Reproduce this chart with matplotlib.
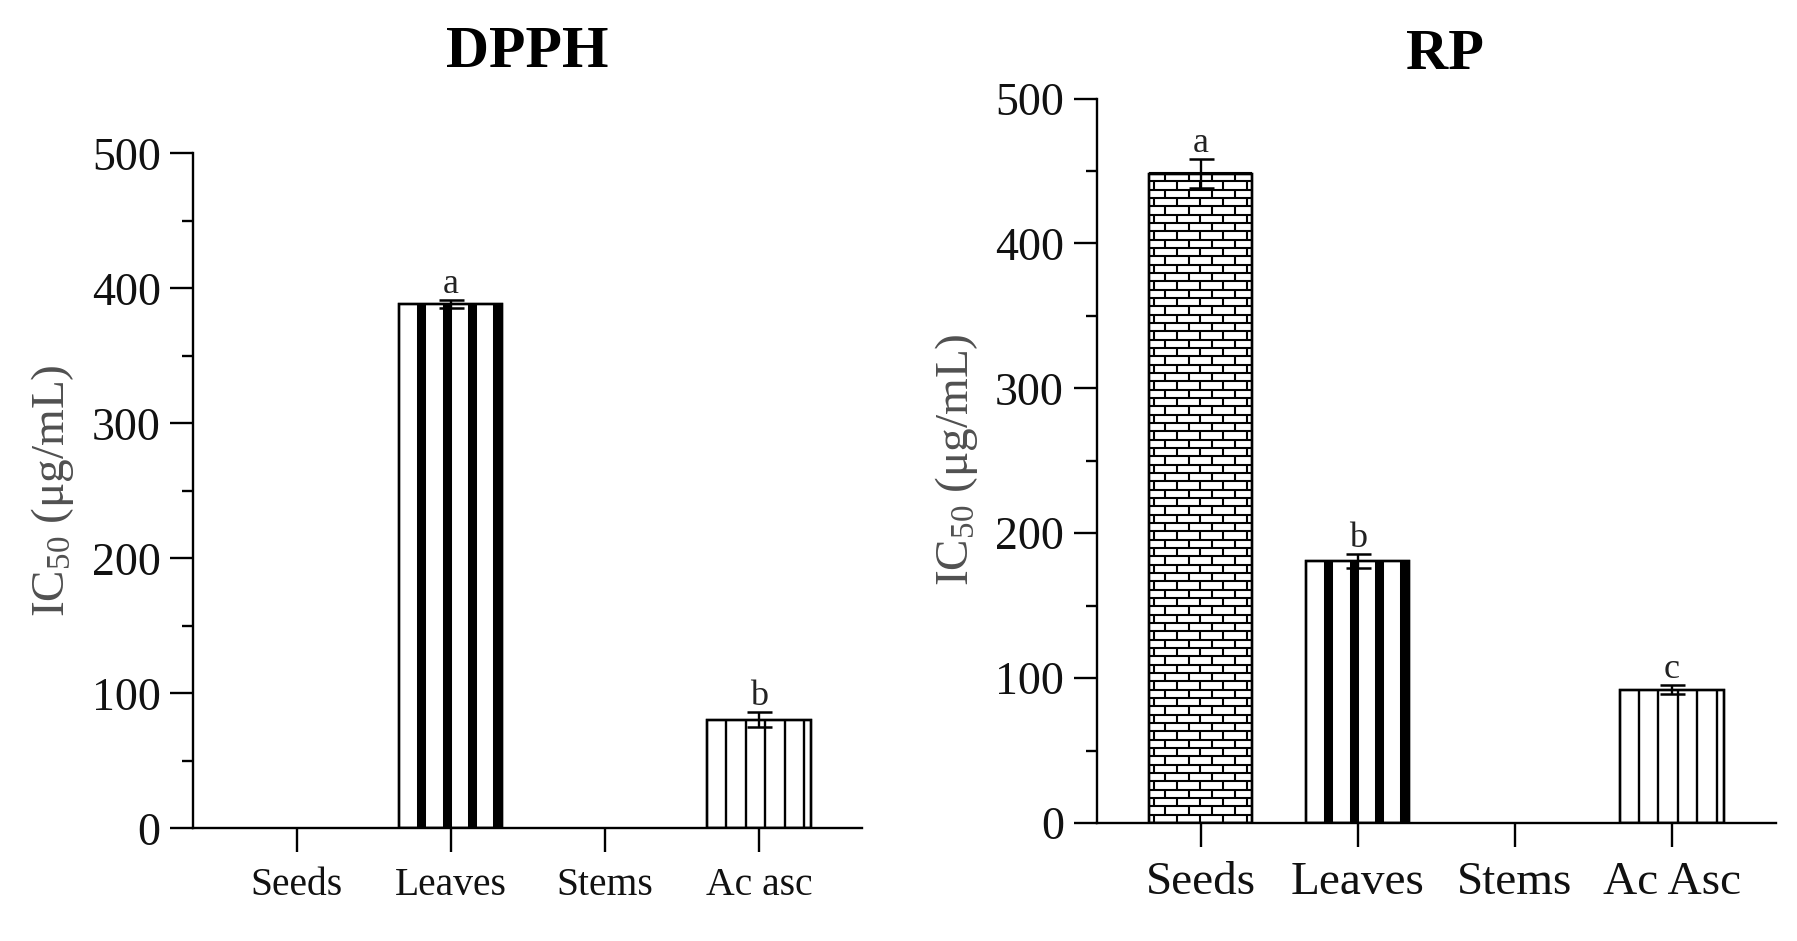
import numpy as np
import matplotlib
matplotlib.use('Agg')
import matplotlib.pyplot as plt
from matplotlib.collections import LineCollection

# ---------------- data ----------------
dpph_categories = ['Seeds', 'Leaves', 'Stems', 'Ac asc']
dpph_values = [np.nan, 388.5, np.nan, 80.5]
dpph_errors = [np.nan, 3.0, np.nan, 5.5]
dpph_letters = ['', 'a', '', 'b']
dpph_patterns = [None, 'thick', None, 'thin']

rp_categories = ['Seeds', 'Leaves', 'Stems', 'Ac Asc']
rp_values = [448.0, 180.8, np.nan, 92.1]
rp_errors = [10.0, 5.0, np.nan, 3.3]
rp_letters = ['a', 'b', '', 'c']
rp_patterns = ['brick', 'thick', None, 'thin']

y_major = [0, 100, 200, 300, 400, 500]
y_minor = [50, 150, 250, 350, 450]
ylabel_text = 'IC$_{50}$ (μg/mL)'

# ---------------- style ----------------
plt.rcParams['font.family'] = ['Liberation Serif', 'DejaVu Serif']
plt.rcParams['mathtext.fontset'] = 'custom'
plt.rcParams['mathtext.rm'] = 'Liberation Serif'
plt.rcParams['mathtext.it'] = 'Liberation Serif:italic'
plt.rcParams['mathtext.bf'] = 'Liberation Serif:bold'

W, H = 1797, 941
fig = plt.figure(figsize=(W / 100, H / 100), dpi=100)
fig.patch.set_facecolor('white')

LW = 1.7


def px_axes(x0, x1, ytop, ybot):
    return fig.add_axes([x0 / W, 1 - ybot / H, (x1 - x0) / W, (ybot - ytop) / H])


ax1 = px_axes(193.3, 861.7, 153.3, 828.3)
ax2 = px_axes(1096.7, 1776.0, 98.5, 823.0)


def decorate(ax, bar, kind):
    x0 = bar.get_x()
    w = bar.get_width()
    h = bar.get_height()
    if kind == 'thick':
        xs = x0 + w * np.array([0.215, 0.46, 0.705, 0.95])
        lc = ax.vlines(xs, 0, h, colors='black', linewidth=6.5, zorder=2.1)
        lc.set_capstyle('butt')
        lc.set_clip_path(bar)
    elif kind == 'thin':
        xs = x0 + w * np.array([0.183, 0.37, 0.557, 0.748, 0.938])
        lc = ax.vlines(xs, 0, h, colors='black', linewidth=1.7, zorder=2.1)
        lc.set_capstyle('butt')
        lc.set_clip_path(bar)
    elif kind == 'brick':
        row_h = 5.75
        brick_w = 0.1485
        nrows = int(np.ceil(h / row_h))
        segs = []
        for i in range(nrows + 1):
            y = i * row_h
            segs.append([(x0, y), (x0 + w, y)])
        for i in range(nrows):
            ya, yb = i * row_h, (i + 1) * row_h
            phase = 0.03 if i % 2 == 0 else 0.03 + brick_w / 2
            for xx in x0 + phase + np.arange(0, w + brick_w, brick_w):
                if xx < x0 + w:
                    segs.append([(xx, ya), (xx, yb)])
        lc = LineCollection(segs, colors='black', linewidths=1.5, zorder=2.1)
        lc.set_clip_path(bar)
        ax.add_collection(lc)


def draw_panel(ax, cats, vals, errs, letters, patterns, width, xlim,
               xfs, yfs):
    x = np.arange(len(cats))
    for i, (v, e, lt, pt) in enumerate(zip(vals, errs, letters, patterns)):
        if np.isnan(v):
            continue
        bars = ax.bar(x[i], v, width=width, color='white', edgecolor='black',
                      linewidth=LW, zorder=2)
        decorate(ax, bars[0], pt)
        # redraw outline on top
        ax.bar(x[i], v, width=width, fill=False, edgecolor='black',
               linewidth=LW, zorder=2.2)
        ax.errorbar(x[i], v, yerr=e, fmt='none', ecolor='black',
                    elinewidth=1.7, capsize=9, capthick=1.8, zorder=3)
        ax.annotate(lt, (x[i], v + e), xytext=(0, 5),
                    textcoords='offset points', ha='center', va='baseline',
                    fontsize=26, color='#222222')
    ax.set_xlim(*xlim)
    ax.set_ylim(0, 500)
    ax.set_xticks(x)
    ax.set_xticklabels(cats, fontsize=xfs, color='#111111')
    ax.set_yticks(y_major)
    ax.set_yticks(y_minor, minor=True)
    ax.set_yticklabels([str(t) for t in y_major], fontsize=yfs,
                       color='#111111')
    for s in ['top', 'right']:
        ax.spines[s].set_visible(False)
    for s in ['left', 'bottom']:
        ax.spines[s].set_linewidth(LW)
    ax.tick_params(axis='y', which='major', length=16.5, width=LW, pad=7)
    ax.tick_params(axis='y', which='minor', length=8, width=LW)
    ax.tick_params(axis='x', which='major', length=17, width=LW, pad=11)
    ax.tick_params(axis='x', which='minor', length=0)
    ax.set_facecolor('white')


draw_panel(ax1, dpph_categories, dpph_values, dpph_errors, dpph_letters,
           dpph_patterns, 0.67, (-0.671, 3.667), 28.5, 33)
draw_panel(ax2, rp_categories, rp_values, rp_errors, rp_letters,
           rp_patterns, 0.66, (-0.662, 3.664), 34, 33)

# titles
fig.text(527 / W, 1 - 67 / H, 'DPPH', ha='center', va='baseline',
         fontsize=43, fontweight='bold')
fig.text(1445 / W, 1 - 69 / H, 'RP', ha='center', va='baseline',
         fontsize=42, fontweight='bold')

# y labels
fig.text(52 / W, 1 - 490.5 / H, ylabel_text, rotation=90, ha='center',
         va='center', fontsize=34, color='#505050')
fig.text(956 / W, 1 - 460 / H, ylabel_text, rotation=90, ha='center',
         va='center', fontsize=34, color='#505050')

fig.savefig('out.png', dpi=100, facecolor='white')
